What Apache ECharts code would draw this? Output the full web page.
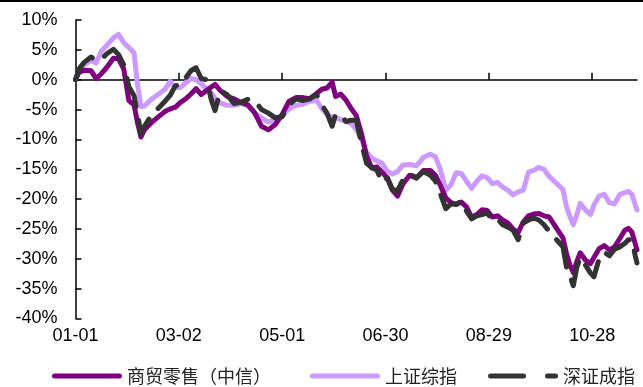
<!DOCTYPE html>
<html>
<head>
<meta charset="utf-8">
<script src="https://cdn.jsdelivr.net/npm/echarts@6/dist/echarts.min.js"></script>
<style>
html,body{margin:0;padding:0;background:#fff;}
#chart{width:643px;height:387px;}
</style>
</head>
<body>
<div id="chart"></div>
<script>
// ---- data (2018, cumulative change %) ----
const dates = ['01-01',
'01-03','01-06','01-10','01-13','01-16','01-19','01-23','01-26','01-29','02-01','02-04','02-06','02-08','02-10','02-14',
'02-22','02-25','02-28','03-03','03-06','03-09','03-12','03-15','03-18','03-21','03-23','03-26','03-30',
'04-03','04-07','04-11','04-15','04-19','04-23','04-27','05-01','05-05','05-09','05-13','05-17','05-21','05-24','05-27','05-30',
'06-01','06-04','06-07','06-10','06-13','06-16','06-19','06-22','06-25','06-28','07-01','07-04','07-07','07-10','07-14','07-18','07-22','07-26','07-29',
'08-01','08-04','08-07','08-10','08-13','08-16','08-19','08-22','08-25','08-28','08-31','09-03','09-06','09-09','09-12','09-15','09-18','09-21','09-24','09-27','09-30','10-03',
'10-11','10-13','10-15','10-17','10-19','10-21','10-24','10-27','10-29','11-01','11-04','11-07','11-10','11-13','11-16','11-18','11-20','11-22','11-23'];

const retail = [0,
1.2,1.6,1.5,0.2,1.0,2.0,3.6,3.5,1.8,-3.5,-4.2,-7.2,-9.6,-8.4,-7.2,
-5.3,-4.9,-4.6,-3.8,-3.2,-2.4,-1.5,-2.5,-1.8,-1.2,-0.8,-1.8,-2.8,
-3.2,-3.8,-4.2,-5.5,-7.8,-8.4,-7.5,-5.8,-3.6,-3.0,-3.0,-3.2,-2.3,-1.6,-1.4,-0.4,
-2.8,-2.4,-3.4,-4.8,-6.0,-9.0,-12.8,-14.8,-14.6,-15.5,-16.5,-18.5,-19.5,-17.5,-16.0,-16.5,-15.2,-15.2,-16.0,
-17.8,-19.8,-20.6,-20.9,-20.5,-21.3,-23.0,-22.6,-21.8,-21.9,-23.0,-22.8,-23.5,-24.0,-25.0,-25.6,-23.8,-22.8,-22.5,-22.4,-22.8,-23.0,
-26.5,-29.0,-31.0,-32.3,-30.5,-29.0,-30.2,-30.8,-29.8,-28.3,-27.8,-28.5,-28.0,-26.6,-25.2,-24.9,-25.5,-27.5,-28.5];

const shIndex = [0,
1.5,2.5,3.2,2.8,4.8,5.7,7.0,7.6,6.2,5.4,4.5,-0.8,-4.5,-4.4,-3.3,
-1.6,-0.3,-1.3,-1.3,-0.5,0.2,0.0,-0.7,-1.5,-2.2,-3.2,-3.9,-4.3,
-4.3,-4.0,-4.3,-5.6,-6.4,-7.1,-6.6,-6.0,-4.9,-4.3,-4.1,-3.6,-3.5,-4.8,-5.8,-6.3,
-6.4,-6.7,-7.0,-7.3,-8.3,-9.9,-12.2,-13.1,-13.6,-14.0,-15.3,-15.8,-15.4,-14.3,-14.2,-14.4,-13.0,-12.5,-12.9,
-15.2,-18.5,-17.6,-15.6,-15.7,-17.0,-18.2,-17.0,-16.1,-16.4,-17.4,-17.2,-18.0,-18.5,-19.3,-18.8,-18.5,-15.5,-15.2,-14.7,-15.0,-16.2,
-18.4,-21.2,-22.9,-24.3,-22.7,-20.7,-21.8,-22.6,-21.0,-19.5,-19.2,-20.6,-20.8,-19.2,-18.9,-18.7,-19.2,-21.0,-21.8];

const szIndex = [0,
1.8,2.9,3.8,3.3,3.4,4.3,5.1,4.2,2.5,-1.2,-2.7,-5.8,-9.0,-7.8,-6.0,
-3.6,-2.6,-1.0,-0.9,0.3,1.5,2.0,0.2,0.0,-3.5,-5.2,-1.8,-2.5,
-4.0,-3.8,-3.3,-3.5,-5.0,-5.6,-6.4,-6.2,-4.2,-3.2,-3.5,-3.2,-2.5,-4.2,-5.6,-7.8,
-5.8,-5.9,-7.0,-6.8,-6.8,-10.6,-14.0,-14.7,-15.2,-17.2,-16.4,-18.4,-18.6,-16.8,-15.8,-16.4,-15.4,-16.0,-17.0,
-19.2,-21.6,-20.8,-20.9,-20.3,-22.0,-23.3,-22.8,-22.6,-22.3,-23.5,-23.3,-24.3,-24.7,-25.2,-26.8,-24.0,-23.5,-23.2,-23.5,-24.3,-25.4,
-28.0,-31.3,-32.8,-34.5,-31.5,-29.8,-31.0,-32.4,-33.0,-30.0,-28.9,-29.5,-28.4,-28.0,-27.4,-26.8,-26.8,-29.5,-30.7];

const seriesNames = ['商贸零售（中信）', '上证综指', '深证成指'];
const xTickLabels = ['01-01', '03-02', '05-01', '06-30', '08-29', '10-28'];
const yTickLabels = ['10%', '5%', '0%', '-5%', '-10%', '-15%', '-20%', '-25%', '-30%', '-35%', '-40%'];
const YEAR = 2018;

// ---- build ----
function dayIndex(md) {
  const [m, d] = md.split('-').map(Number);
  return (Date.UTC(YEAR, m - 1, d) - Date.UTC(YEAR, 0, 1)) / 86400000;
}
const xs = dates.map(dayIndex);
const tickDays = xTickLabels.map(dayIndex);
const endDay = xs[xs.length - 1];
const pair = arr => arr.map((v, i) => [xs[i], v]);

const FONT = '"Liberation Sans", Arial, sans-serif';
const CJK = '"Noto Sans CJK SC", sans-serif';

const SOLID_ICON = 'path://M2.5,0H67.5A2.5,2.5,0,0,1,67.5,5H2.5A2.5,2.5,0,0,1,2.5,0Z';
const DASH_ICON = 'path://M2.5,0H35.5A2.5,2.5,0,0,1,35.5,5H2.5A2.5,2.5,0,0,1,2.5,0Z M59.5,0H67.5A2.5,2.5,0,0,1,67.5,5H59.5A2.5,2.5,0,0,1,59.5,0Z';

const chart = echarts.init(document.getElementById('chart'), null, {renderer: 'canvas'});
const legendBase = {
  orient: 'horizontal', top: 362, itemWidth: 70, itemHeight: 5, itemGap: 0,
  textStyle: {fontFamily: CJK, fontSize: 18, color: '#222'},
  selectedMode: false
};
const LW = 5;
chart.setOption({
  animation: false,
  backgroundColor: '#fff',
  graphic: [{type: 'rect', left: 0, top: 0, shape: {width: 643, height: 2}, style: {fill: '#000'}}],
  grid: {left: 75.5, right: 6, top: 20, bottom: 68.5, containLabel: false},
  legend: [
    Object.assign({}, legendBase, {left: 47, data: [{name: seriesNames[0], icon: SOLID_ICON}]}),
    Object.assign({}, legendBase, {left: 305, data: [{name: seriesNames[1], icon: SOLID_ICON}]}),
    Object.assign({}, legendBase, {left: 483, data: [{name: seriesNames[2], icon: DASH_ICON}]})
  ],
  xAxis: [
    {
      type: 'value', min: 0, max: endDay,
      axisLine: {show: true, onZero: true, lineStyle: {color: '#000', width: 1.5}},
      axisTick: {show: true, inside: true, length: 7, customValues: tickDays, lineStyle: {color: '#000', width: 1.5}},
      axisLabel: {show: false},
      splitLine: {show: false}
    },
    {
      type: 'value', min: 0, max: endDay, position: 'bottom',
      axisLine: {show: false, onZero: false},
      axisTick: {show: false},
      axisLabel: {
        show: true, margin: 9, fontFamily: FONT, fontSize: 18, color: '#000',
        customValues: tickDays,
        formatter: v => xTickLabels[tickDays.indexOf(Math.round(v))] || ''
      },
      splitLine: {show: false}
    }
  ],
  yAxis: {
    type: 'value', min: -40, max: 10, interval: 5,
    axisLine: {show: true, lineStyle: {color: '#000', width: 1.5}},
    axisTick: {show: true, inside: true, length: 6, lineStyle: {color: '#000', width: 1.5}},
    axisLabel: {
      margin: 18, fontFamily: FONT, fontSize: 18, color: '#000',
      formatter: v => yTickLabels[Math.round((10 - v) / 5)]
    },
    splitLine: {show: false}
  },
  series: [
    {
      name: seriesNames[1], type: 'line', xAxisIndex: 0, data: pair(shIndex),
      symbol: 'none', z: 2, color: '#CC99FF',
      lineStyle: {color: '#CC99FF', width: LW, join: 'round', cap: 'round'}
    },
    {
      name: seriesNames[0], type: 'line', xAxisIndex: 0, data: pair(retail),
      symbol: 'none', z: 3, color: '#800080',
      lineStyle: {color: '#800080', width: LW, join: 'round', cap: 'round'}
    },
    {
      name: seriesNames[2], type: 'line', xAxisIndex: 0, data: pair(szIndex),
      symbol: 'none', z: 4, color: '#333333',
      lineStyle: {color: '#333333', width: LW, type: [30, 14], join: 'round', cap: 'round'}
    }
  ]
});
</script>
</body>
</html>
